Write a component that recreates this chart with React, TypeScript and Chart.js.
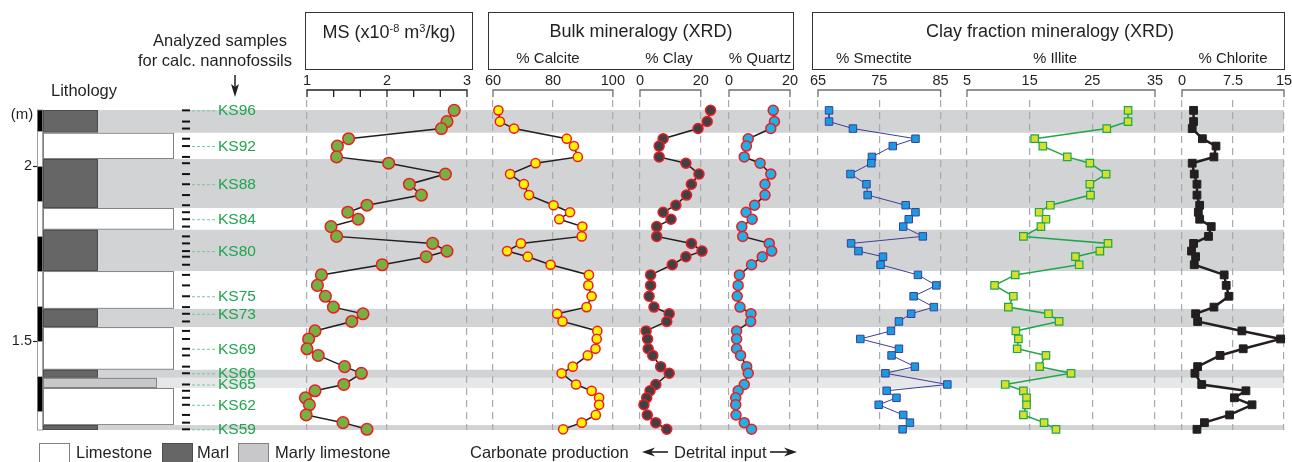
import React, { useEffect, useRef } from "react";
import { Chart, registerables } from "chart.js";

Chart.register(...registerables);

const FONT = "'Liberation Sans', Arial, Helvetica, sans-serif";
const INK = "#231f20";

// ---------- DATA ----------
// Depth (m) of the 38 analysed levels, from KS96 (top) down to KS59 (base)
const SAMPLE_DEPTH = [
  2.16, 2.128, 2.108, 2.079, 2.058, 2.027, 2.009, 1.978, 1.949, 1.918,
  1.889, 1.869, 1.849, 1.828, 1.8, 1.78, 1.758, 1.742, 1.719, 1.69,
  1.66, 1.629, 1.598, 1.579, 1.557, 1.53, 1.507, 1.479, 1.46, 1.428,
  1.409, 1.377, 1.359, 1.339, 1.319, 1.29, 1.268, 1.249,
];
const SAMPLE_LABELS = ["KS96", "KS92", "KS88", "KS84", "KS80", "KS75", "KS73", "KS69", "KS66", "KS65", "KS62", "KS59"];
const SAMPLE_LABEL_INDEX = [0, 4, 8, 12, 16, 21, 23, 27, 30, 31, 34, 37];

const MS = [
  2.84, 2.75, 2.68, 1.52, 1.38, 1.37, 2.02, 2.73, 2.28, 2.43,
  1.75, 1.51, 1.64, 1.3, 1.37, 2.57, 2.75, 2.49, 1.94, 1.18,
  1.13, 1.23, 1.33, 1.7, 1.56, 1.1, 1.02, 1.0, 1.14, 1.47,
  1.68, 1.46, 1.1, 0.98, 1.03, 0.99, 1.45, 1.75,
];
const CALCITE = [
  61.8, 62.3, 67.0, 84.6, 87.0, 88.3, 74.2, 65.7, 70.3, 72.0,
  80.2, 85.7, 82.1, 89.8, 89.6, 69.3, 64.7, 71.6, 79.2, 92.0,
  91.8, 92.9, 91.2, 81.4, 83.2, 94.8, 94.6, 94.2, 91.6, 86.6,
  82.9, 87.7, 92.9, 95.4, 95.4, 94.3, 89.6, 83.4,
];
const CLAY = [
  23.2, 22.1, 19.1, 7.6, 6.3, 6.3, 15.1, 19.4, 16.9, 15.3,
  11.8, 7.6, 10.2, 5.5, 5.5, 16.9, 20.4, 15.1, 10.6, 3.5,
  3.5, 3.0, 4.6, 9.6, 8.8, 2.0, 2.5, 2.7, 4.2, 6.8,
  9.6, 5.2, 3.3, 2.2, 1.3, 2.4, 5.2, 8.8,
];
const QUARTZ = [
  14.5, 14.9, 13.7, 6.3, 5.7, 5.0, 10.2, 13.7, 11.8, 11.8,
  8.4, 5.6, 7.6, 4.2, 4.5, 13.2, 14.0, 10.9, 7.4, 3.4,
  3.0, 2.7, 3.6, 7.2, 7.1, 2.5, 2.5, 2.5, 3.8, 5.8,
  6.3, 5.0, 3.0, 2.2, 2.2, 2.3, 5.0, 7.4,
];
const SMECTITE = [
  66.8, 66.8, 70.7, 80.9, 77.2, 73.8, 73.7, 70.3, 72.9, 73.1,
  79.3, 80.9, 79.8, 78.9, 82.1, 70.4, 71.6, 75.6, 75.2, 81.3,
  84.3, 80.6, 83.9, 80.2, 78.2, 76.9, 71.9, 78.2, 77.0, 80.8,
  76.0, 86.1, 76.2, 77.8, 74.9, 78.9, 80.0, 78.8,
];
const ILLITE = [
  30.7, 30.7, 27.3, 15.8, 17.1, 21.0, 24.6, 27.2, 24.6, 24.7,
  18.3, 16.5, 17.6, 16.8, 14.0, 27.5, 26.2, 22.3, 22.9, 12.7,
  9.4, 12.4, 11.6, 18.0, 19.7, 12.8, 13.2, 13.0, 17.6, 16.6,
  21.6, 11.1, 14.0, 14.5, 14.5, 14.0, 17.3, 19.2,
];
const CHLORITE = [
  1.7, 1.7, 1.5, 3.0, 5.0, 4.7, 1.5, 1.8, 2.2, 2.2,
  2.6, 2.4, 2.6, 4.3, 3.9, 1.7, 1.4, 2.0, 1.8, 6.2,
  6.5, 6.9, 4.7, 2.0, 2.3, 8.8, 14.5, 9.0, 5.6, 2.3,
  1.9, 2.9, 9.4, 7.7, 10.3, 7.0, 3.3, 2.2,
];

// Tick labels of each panel
const MS_TICKS = [1, 2, 3];
const CALCITE_TICKS = [60, 80, 100];
const CLAY_TICKS = [0, 20];
const QUARTZ_TICKS = [0, 20];
const SMECTITE_TICKS = [65, 75, 85];
const ILLITE_TICKS = [5, 15, 25, 35];
const CHLORITE_TICKS = [0, 7.5, 15];
const DEPTH_TICKS = [1.5, 2];

// Lithological log (depth in m)
const LAYER_TOP = [2.161, 2.096, 2.021, 1.881, 1.819, 1.701, 1.593, 1.541, 1.419, 1.396, 1.367, 1.261];
const LAYER_BASE = [2.096, 2.021, 1.881, 1.819, 1.701, 1.593, 1.541, 1.419, 1.396, 1.367, 1.261, 1.247];
const LAYER_TYPE = ["marl", "limestone", "marl", "limestone", "marl", "limestone", "marl", "limestone", "marl", "marlyLimestone", "limestone", "marl"];

// Depth range of the section
const DEPTH_MIN = 1.247;
const DEPTH_TOP = 2.161;

// ---------- STYLE / LAYOUT ----------
const LITHO_STYLE: Record<string, { fill: string; stroke: string; width: number; band: string | null }> = {
  limestone: { fill: "#ffffff", stroke: "#808285", width: 1.0, band: null },
  marl: { fill: "#666666", stroke: "#4d4d4f", width: 0.445, band: "#d1d3d4" },
  marlyLimestone: { fill: "#c8c8ca", stroke: "#808285", width: 0.876, band: "#e6e7e8" },
};
const PLOT_TOP = 110;
const PLOT_BOTTOM = 430;
const PANEL_TOP = 100;
const PANEL_MAX = DEPTH_TOP + ((DEPTH_TOP - DEPTH_MIN) * (PLOT_TOP - PANEL_TOP)) / (PLOT_BOTTOM - PLOT_TOP);
const BAND_RIGHT = 1284;
const BAR_W = 6;
const PAD = 22;

const bracketPlugin = {
  id: "bracket",
  afterDraw(chart: any, _a: any, opts: any) {
    const { ctx, chartArea, scales } = chart;
    const x = scales.x;
    const yb = chartArea.top - 10;
    const x0 = x.getPixelForValue(opts.from);
    const x1 = x.getPixelForValue(opts.to);
    ctx.save();
    ctx.strokeStyle = opts.color;
    ctx.lineWidth = 1.3;
    ctx.beginPath();
    ctx.moveTo(x0, yb + 7);
    ctx.lineTo(x0, yb);
    ctx.lineTo(x1, yb);
    ctx.lineTo(x1, yb + 7);
    if (opts.minorStep) {
      for (let v = opts.from + opts.minorStep; v < opts.to - 1e-6; v += opts.minorStep) {
        const px = x.getPixelForValue(v);
        ctx.moveTo(px, yb);
        ctx.lineTo(px, yb + 7);
      }
    }
    ctx.stroke();
    ctx.restore();
  },
};

const lithoPlugin = {
  id: "litho",
  afterDraw(chart: any) {
    const { ctx, chartArea, scales } = chart;
    const y = scales.y;
    const x = scales.x;
    const colLeft = chartArea.left + BAR_W;
    ctx.save();
    // bands
    LAYER_TYPE.forEach((t, i) => {
      const st = LITHO_STYLE[t];
      if (!st.band) return;
      const yt = y.getPixelForValue(LAYER_TOP[i]);
      const yb = y.getPixelForValue(LAYER_BASE[i]);
      ctx.fillStyle = st.band;
      ctx.fillRect(colLeft, yt, BAND_RIGHT - colLeft, yb - yt);
    });
    // lithology boxes
    LAYER_TYPE.forEach((t, i) => {
      const st = LITHO_STYLE[t];
      const yt = y.getPixelForValue(LAYER_TOP[i]);
      const yb = y.getPixelForValue(LAYER_BASE[i]);
      const xr = x.getPixelForValue(st.width);
      ctx.fillStyle = st.fill;
      ctx.fillRect(colLeft, yt, xr - colLeft, yb - yt);
      ctx.strokeStyle = st.stroke;
      ctx.lineWidth = 1;
      ctx.strokeRect(colLeft + 0.5, yt + 0.5, xr - colLeft - 1, yb - yt - 1);
    });
    // depth scale bar (10 cm alternating)
    const kMin = Math.floor(DEPTH_MIN * 10);
    const kMax = Math.ceil(DEPTH_TOP * 10);
    for (let k = kMin; k < kMax; k++) {
      const top = Math.min((k + 1) / 10, DEPTH_TOP);
      const bot = Math.max(k / 10, DEPTH_MIN);
      const yt = y.getPixelForValue(top);
      const yb = y.getPixelForValue(bot);
      ctx.fillStyle = k % 2 === 1 ? "#000000" : "#ffffff";
      ctx.fillRect(chartArea.left, yt, BAR_W, yb - yt);
    }
    ctx.strokeStyle = "#8a8a8a";
    ctx.lineWidth = 0.8;
    ctx.strokeRect(chartArea.left + 0.4, chartArea.top, BAR_W - 0.8, chartArea.bottom - chartArea.top);
    // sample ticks
    ctx.strokeStyle = "#111111";
    ctx.lineWidth = 2;
    SAMPLE_DEPTH.forEach((d) => {
      const py = y.getPixelForValue(d);
      ctx.beginPath();
      ctx.moveTo(182, py);
      ctx.lineTo(190, py);
      ctx.stroke();
    });
    // sample labels
    ctx.font = `15.5px ${FONT}`;
    ctx.textBaseline = "middle";
    ctx.textAlign = "left";
    SAMPLE_LABELS.forEach((lab, j) => {
      const py = y.getPixelForValue(SAMPLE_DEPTH[SAMPLE_LABEL_INDEX[j]]);
      ctx.strokeStyle = "#74c995";
      ctx.lineWidth = 1;
      ctx.setLineDash([3, 2]);
      ctx.beginPath();
      ctx.moveTo(192, py + 0.5);
      ctx.lineTo(216, py + 0.5);
      ctx.stroke();
      ctx.setLineDash([]);
      ctx.fillStyle = "#1fa550";
      ctx.fillText(lab, 218, py + 0.5);
    });
    ctx.restore();
  },
};

function Background() {
  const ref = useRef<HTMLCanvasElement>(null);
  useEffect(() => {
    const chart = new Chart(ref.current as HTMLCanvasElement, {
      type: "scatter",
      data: { datasets: [] },
      options: {
        animation: false,
        responsive: false,
        maintainAspectRatio: false,
        layout: { padding: { left: 0, right: 1292 - 174, top: PLOT_TOP, bottom: 462 - PLOT_BOTTOM } },
        plugins: { legend: { display: false }, tooltip: { enabled: false } },
        scales: {
          x: { type: "linear", display: false, min: 0, max: 1 },
          y: {
            type: "linear",
            position: "left",
            min: DEPTH_MIN,
            max: DEPTH_TOP,
            afterFit: (s: any) => {
              s.width = 37;
            },
            afterBuildTicks: (s: any) => {
              s.ticks = DEPTH_TICKS.map((v) => ({ value: v }));
            },
            ticks: {
              padding: 1,
              color: INK,
              font: { family: FONT, size: 14.5 },
              callback: (v: any) => String(v),
            },
            grid: { drawOnChartArea: false, drawTicks: true, tickLength: 4, tickColor: INK, tickWidth: 1.2 },
            border: { display: false },
          },
        },
      } as any,
      plugins: [lithoPlugin],
    });
    return () => chart.destroy();
  }, []);
  return <canvas ref={ref} width={1292} height={462} style={{ position: "absolute", left: 0, top: 0, width: 1292, height: 462 }} />;
}

type PanelProps = {
  values: number[];
  ticks: number[];
  min: number;
  max: number;
  left: number; // pixel of first tick
  right: number; // pixel of last tick
  line: string;
  lineWidth: number;
  pointStyle: string;
  radius: number;
  fill: string;
  edge: string;
  edgeWidth: number;
  bracketColor: string;
  minorStep?: number;
};

function Panel(p: PanelProps) {
  const ref = useRef<HTMLCanvasElement>(null);
  const t0 = p.ticks[0];
  const t1 = p.ticks[p.ticks.length - 1];
  const ppu = (p.right - p.left) / (t1 - t0);
  const areaLeft = p.left - (t0 - p.min) * ppu;
  const areaRight = p.right + (p.max - t1) * ppu;
  const w = areaRight - areaLeft + 2 * PAD;
  useEffect(() => {
    const chart = new Chart(ref.current as HTMLCanvasElement, {
      type: "scatter",
      data: {
        datasets: [
          {
            data: SAMPLE_DEPTH.map((d, i) => ({ x: p.values[i], y: d })),
            showLine: true,
            borderColor: p.line,
            borderWidth: p.lineWidth,
            pointStyle: p.pointStyle,
            pointRadius: p.radius,
            pointHoverRadius: p.radius,
            pointBackgroundColor: p.fill,
            pointBorderColor: p.edge,
            pointBorderWidth: p.edgeWidth,
            clip: false,
          } as any,
        ],
      },
      options: {
        animation: false,
        responsive: false,
        maintainAspectRatio: false,
        layout: { padding: { left: PAD, right: PAD, top: 0, bottom: 462 - PLOT_BOTTOM } },
        plugins: {
          legend: { display: false },
          tooltip: { enabled: false },
          bracket: { color: p.bracketColor, minorStep: p.minorStep, from: t0, to: t1 },
        },
        scales: {
          x: {
            type: "linear",
            position: "top",
            min: p.min,
            max: p.max,
            afterFit: (s: any) => {
              s.height = PANEL_TOP;
            },
            afterBuildTicks: (s: any) => {
              s.ticks = p.ticks.map((v) => ({ value: v }));
            },
            ticks: {
              padding: 10,
              maxRotation: 0,
              autoSkip: false,
              color: INK,
              font: { family: FONT, size: 14.5 },
              callback: (v: any) => String(v),
            },
            grid: { color: "#a7a9ac", lineWidth: 1.2, drawTicks: false },
            border: { display: false, dash: [7, 5] },
          },
          y: { type: "linear", display: false, min: DEPTH_MIN, max: PANEL_MAX },
        },
      } as any,
      plugins: [bracketPlugin],
    });
    return () => chart.destroy();
  }, []);
  return (
    <canvas
      ref={ref}
      width={Math.round(w)}
      height={462}
      style={{ position: "absolute", left: areaLeft - PAD, top: 0, width: Math.round(w), height: 462 }}
    />
  );
}

const Txt = ({ x, y, size = 16.5, anchor = "middle", color = INK, children }: any) => {
  const tx = anchor === "middle" ? "-50%" : anchor === "end" ? "-100%" : "0";
  return (
    <div
      style={{
        position: "absolute",
        left: x,
        top: y,
        transform: `translate(${tx}, -50%)`,
        fontSize: size,
        lineHeight: 1,
        whiteSpace: "nowrap",
        color,
      }}
    >
      {children}
    </div>
  );
};

const Box = ({ x, y, w, h, fill = "transparent", border = "1.5px solid #333" }: any) => (
  <div style={{ position: "absolute", left: x, top: y, width: w, height: h, background: fill, border, boxSizing: "border-box" }} />
);

export default function App() {
  const RED = "#ed1c24";
  return (
    <div style={{ position: "absolute", left: 0, top: 0, width: 1292, height: 462, overflow: "hidden", background: "#fff", fontFamily: FONT, color: INK }}>
      <Background />
      <Panel values={MS} ticks={MS_TICKS} min={0.9} max={3} left={307} right={467} line={INK} lineWidth={1.5} pointStyle="circle" radius={5.8} fill="#76b043" edge={RED} edgeWidth={1.5} bracketColor={INK} minorStep={1 / 3} />
      <Panel values={CALCITE} ticks={CALCITE_TICKS} min={60} max={100} left={493} right={613} line={INK} lineWidth={1.5} pointStyle="circle" radius={4.6} fill="#fff200" edge={RED} edgeWidth={1.5} bracketColor="#6d6e71" />
      <Panel values={CLAY} ticks={CLAY_TICKS} min={0} max={25} left={640} right={701} line={INK} lineWidth={1.5} pointStyle="circle" radius={5} fill="#414042" edge={RED} edgeWidth={1.5} bracketColor="#6d6e71" />
      <Panel values={QUARTZ} ticks={QUARTZ_TICKS} min={0} max={20} left={729} right={790} line={INK} lineWidth={1.5} pointStyle="circle" radius={5} fill="#1fb0e6" edge={RED} edgeWidth={1.5} bracketColor="#6d6e71" />
      <Panel values={SMECTITE} ticks={SMECTITE_TICKS} min={65} max={88} left={818} right={941} line="#3b3f98" lineWidth={1} pointStyle="rect" radius={5.3} fill="#1a9be0" edge="#3b3f98" edgeWidth={1} bracketColor="#6d6e71" />
      <Panel values={ILLITE} ticks={ILLITE_TICKS} min={5} max={35} left={967} right={1155} line="#1fa64b" lineWidth={1.5} pointStyle="rect" radius={5.3} fill="#d6df2a" edge="#1fa64b" edgeWidth={1.2} bracketColor="#6d6e71" />
      <Panel values={CHLORITE} ticks={CHLORITE_TICKS} min={0} max={15} left={1182} right={1284} line={INK} lineWidth={2.5} pointStyle="rect" radius={5.5} fill={INK} edge={INK} edgeWidth={1} bracketColor="#6d6e71" />

      {/* header boxes */}
      <Box x={305} y={12} w={168} h={58} />
      <Box x={488} y={12} w={306} h={58} />
      <Box x={812} y={12} w={473} h={58} />
      <Txt x={389} y={32} size={18}>
        MS (x10<sup style={{ fontSize: 11, verticalAlign: "6px" }}>-8</sup> m<sup style={{ fontSize: 11, verticalAlign: "6px" }}>3</sup>/kg)
      </Txt>
      <Txt x={641} y={31} size={18}>Bulk mineralogy (XRD)</Txt>
      <Txt x={1050} y={31} size={18}>Clay fraction mineralogy (XRD)</Txt>
      <Txt x={548} y={57} size={15}>% Calcite</Txt>
      <Txt x={669} y={57} size={15}>% Clay</Txt>
      <Txt x={760} y={57} size={15}>% Quartz</Txt>
      <Txt x={874} y={57} size={15}>% Smectite</Txt>
      <Txt x={1055} y={57} size={15}>% Illite</Txt>
      <Txt x={1233} y={57} size={15}>% Chlorite</Txt>

      <Txt x={220} y={40} size={16.5}>Analyzed samples</Txt>
      <Txt x={215} y={60} size={16.5}>for calc. nannofossils</Txt>
      <Txt x={84} y={90} size={16.5}>Lithology</Txt>
      <Txt x={22} y={113} size={15}>(m)</Txt>

      {/* legend */}
      <Box x={39} y={443} w={31} h={26} fill="#ffffff" border="1px solid #808285" />
      <Txt x={76} y={452} anchor="start" size={16.5}>Limestone</Txt>
      <Box x={162} y={443} w={31} h={26} fill="#666666" border="1px solid #4d4d4f" />
      <Txt x={197} y={452} anchor="start" size={16.5}>Marl</Txt>
      <Box x={238} y={443} w={31} h={26} fill="#c8c8ca" border="1px solid #808285" />
      <Txt x={275} y={452} anchor="start" size={16.5}>Marly limestone</Txt>
      <Txt x={470} y={452} anchor="start" size={16.5}>Carbonate production</Txt>
      <Txt x={674} y={452} anchor="start" size={16.5}>Detrital input</Txt>

      <svg width={1292} height={462} style={{ position: "absolute", left: 0, top: 0, pointerEvents: "none" }}>
        <line x1={235} y1={75} x2={235} y2={90} stroke={INK} strokeWidth={1.5} />
        <polygon points="235,97 231,84 235,87 239,84" fill={INK} />
        <line x1={650} y1={452} x2={668} y2={452} stroke={INK} strokeWidth={1.6} />
        <polygon points="642,452 655,447.5 651,452 655,456.5" fill={INK} />
        <line x1={770} y1={452} x2={789} y2={452} stroke={INK} strokeWidth={1.6} />
        <polygon points="797,452 784,447.5 788,452 784,456.5" fill={INK} />
      </svg>
    </div>
  );
}
